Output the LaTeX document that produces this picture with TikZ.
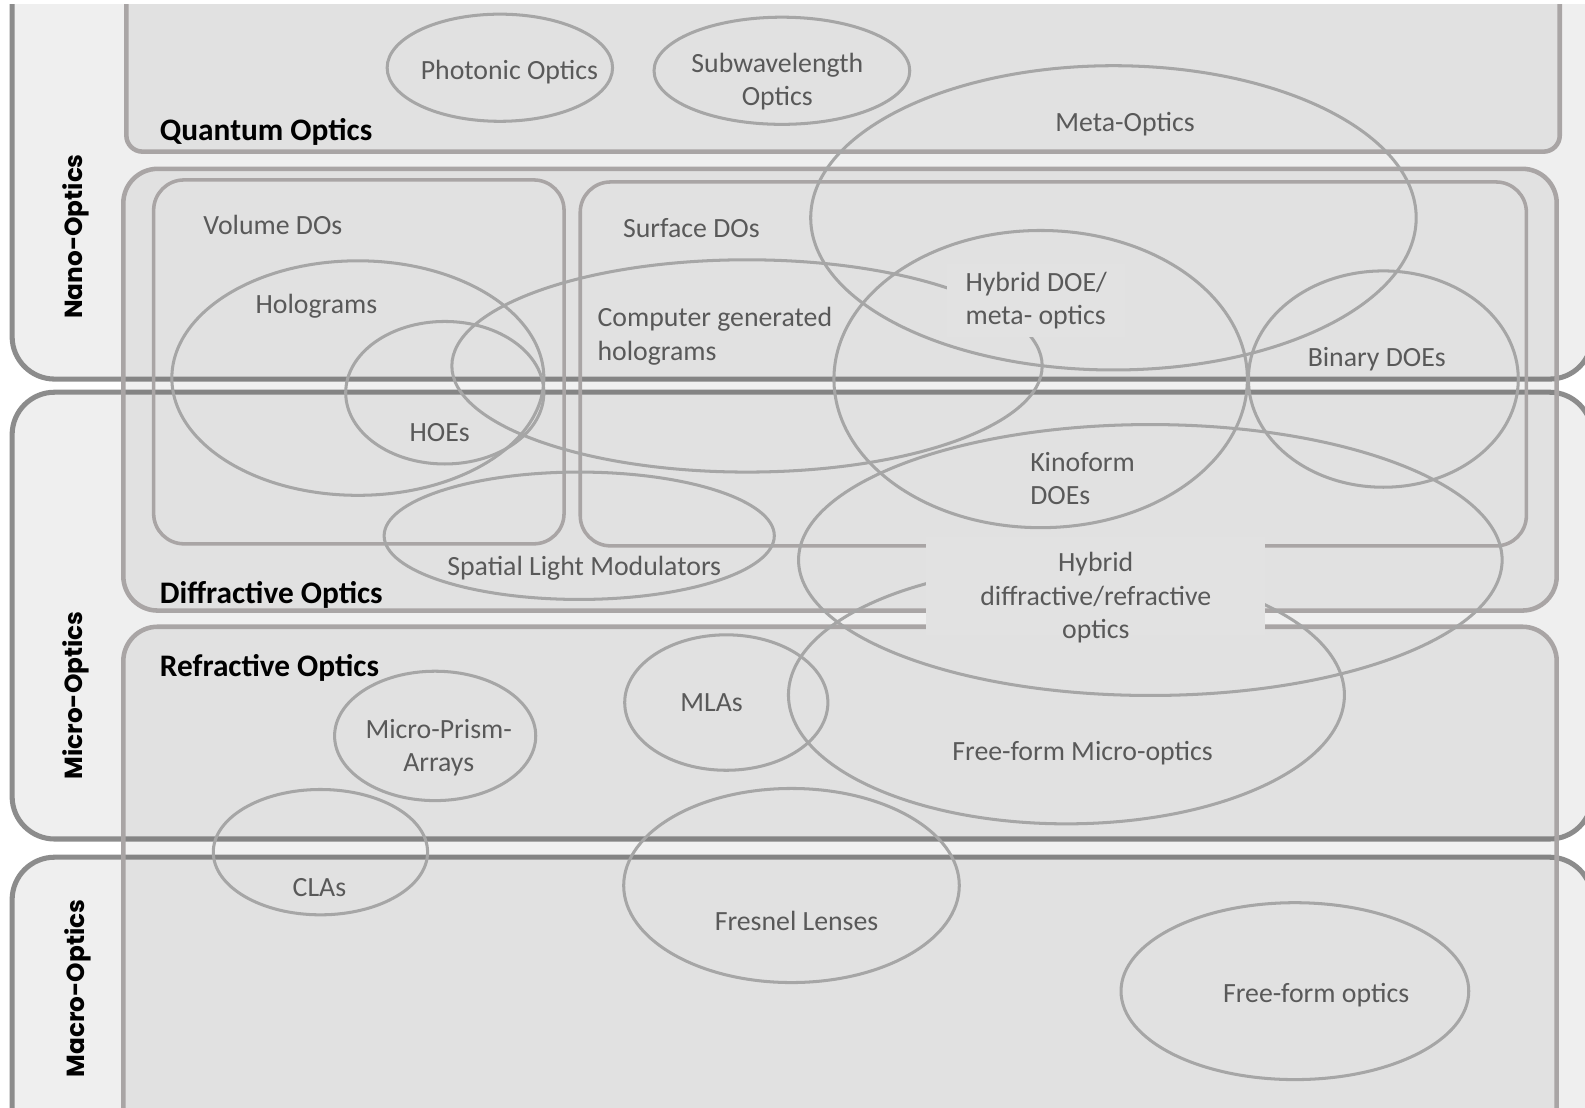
\documentclass[tikz,border=0pt]{standalone}
\usepackage{fontspec}
\setmainfont{Carlito}
\newfontfamily\sidefont{Poppins}
\usepackage{tikz}
\usetikzlibrary{positioning}
\usepackage{xcolor}
\definecolor{outerfill}{HTML}{EFEFEF}
\definecolor{outerline}{HTML}{8C8C8C}
\definecolor{innerline}{HTML}{A9A5A5}
\definecolor{ringline}{HTML}{A6A6A6}
\definecolor{labelgray}{HTML}{595959}
\definecolor{innerbg}{HTML}{E2E2E2}

\tikzset{
  outerbox/.style={fill=outerfill, draw=outerline, line width=5pt, rounded corners=42pt},
  innerbox/.style={draw=innerline, line width=4.5pt, fill=black, fill opacity=0.055},
  subbox/.style={draw=innerline, line width=3.5pt, rounded corners=30pt},
  ring/.style={draw=ringline, line width=3pt},
  ringtext/.style={text=labelgray, font=\fontsize{27.5}{33}\selectfont, inner sep=0pt, align=center, yshift=-2.5pt},
  boxtitle/.style={text=black, font=\fontsize{31}{36}\selectfont\bfseries, inner sep=0pt, anchor=west, yshift=-2.5pt},
  sidelabel/.style={text=black, font=\sidefont\fontsize{24.5}{30}\selectfont\bfseries, inner sep=0pt, rotate=90}
}

\begin{document}
\begin{tikzpicture}[x=1pt, y=-1pt]
    % Page
    \fill[white] (0,0) rectangle (1568,1096);
    \begin{scope}
    \clip (0,4) rectangle (1568,1096);

    % Nano, Micro and Macro scales
    \draw[outerbox] (12,-60) rectangle (1575,375);
    \draw[outerbox] (12,388) rectangle (1575,830);
    \draw[outerbox] (12,848) rectangle (1575,1160);

    % Quantum, Diffractive and Refractive optics
    \draw[innerbox, rounded corners=16pt] (125,-40) rectangle (1543,150);
    \draw[innerbox, rounded corners=34pt] (122,167) rectangle (1540,604);
    \draw[innerbox, rounded corners=34pt] (122,620) rectangle (1540,1150);

    % Volume and Surface DOs
    \draw[subbox] (152,178) rectangle (558,538);
    \draw[subbox] (574,180) rectangle (1510,540);

    % Computer generated holograms (partly hidden)
    \draw[ring] (739,362) ellipse (292 and 105);
    \node[ringtext, align=left, anchor=west, fill=innerbg, inner xsep=18pt, inner ysep=8pt]
        (hybmeta) at (937,295) {Hybrid DOE/\\meta- optics};

    % Rings
    \draw[ring] (494.5,67) ellipse (111.5 and 53);     % photonic
    \draw[ring] (773.5,70) ellipse (126.5 and 53);     % subwavelength
    \draw[ring] (1101.5,215.5) ellipse (299.5 and 150.5); % meta
    \draw[ring] (354,374) ellipse (184 and 116);       % holograms
    \draw[ring] (440,388.5) ellipse (98 and 70.5);     % HOEs
    \draw[ring] (1029.5,375) ellipse (204.5 and 147);  % kinoform
    \draw[ring] (1368.5,375) ellipse (133.5 and 107);  % binary
    \draw[ring] (1138,554) ellipse (348 and 134);      % hybrid d/r
    \draw[ring] (1055,687.5) ellipse (275 and 127.5);  % free-form micro
    \draw[ring] (573,530) ellipse (193 and 63);        % SLM
    \draw[ring] (718.5,695) ellipse (100.5 and 67);    % MLAs
    \draw[ring] (430.5,728) ellipse (99.5 and 64);     % prisms
    \draw[ring] (317,843) ellipse (106 and 62);        % CLAs
    \draw[ring] (783,876) ellipse (166 and 96);        % fresnel
    \draw[ring] (1281,980.5) ellipse (172 and 87.5);   % free-form

    % Hybrid diffractive/refractive label over the lines
    \fill[innerbg] (916,531) rectangle (1251,628);
    \node[ringtext] (hybdr) at (1084,589) {Hybrid\\diffractive/refractive\\optics};
    \end{scope}

    % Scale labels
    \node[sidelabel] (nano) at (75,234) {Nano-Optics};
    \node[sidelabel] (micro) at (75,688) {Micro-Optics};
    \node[sidelabel] (macro) at (77,978) {Macro-Optics};

    % Box titles
    \node[boxtitle] (quantum) at (158,128) {Quantum Optics};
    \node[boxtitle] (diffr) at (158,586) {Diffractive Optics};
    \node[boxtitle] (refr) at (158,658) {Refractive Optics};

    % Ring labels
    \node[ringtext] (photonic) at (504,69) {Photonic Optics};
    \node[ringtext] (subwave) at (769,78) {Subwavelength\\Optics};
    \node[ringtext] (meta) at (1113,120) {Meta-Optics};
    \node[ringtext] (volume) at (270,220) {Volume DOs};
    \node[ringtext] (surface) at (684,223) {Surface DOs};
    \node[ringtext] (holo) at (313,300) {Holograms};
    \node[ringtext] (hoe) at (435,425) {HOEs};
    \node[ringtext, align=left, anchor=west] (cgh) at (591,330) {Computer generated\\holograms};
    \node[ringtext] (binary) at (1362,353) {Binary DOEs};
    \node[ringtext, align=left, anchor=west] (kino) at (1019,471) {Kinoform\\DOEs};
    \node[ringtext] (slm) at (578,560) {Spatial Light Modulators};
    \node[ringtext] (mla) at (704,693) {MLAs};
    \node[ringtext] (prism) at (434,737) {Micro-Prism-\\Arrays};
    \node[ringtext] (ffmicro) at (1071,743) {Free-form Micro-optics};
    \node[ringtext] (cla) at (316,876) {CLAs};
    \node[ringtext] (fresnel) at (788,909) {Fresnel Lenses};
    \node[ringtext] (ffoptics) at (1302,982) {Free-form optics};
\end{tikzpicture}
\end{document}
